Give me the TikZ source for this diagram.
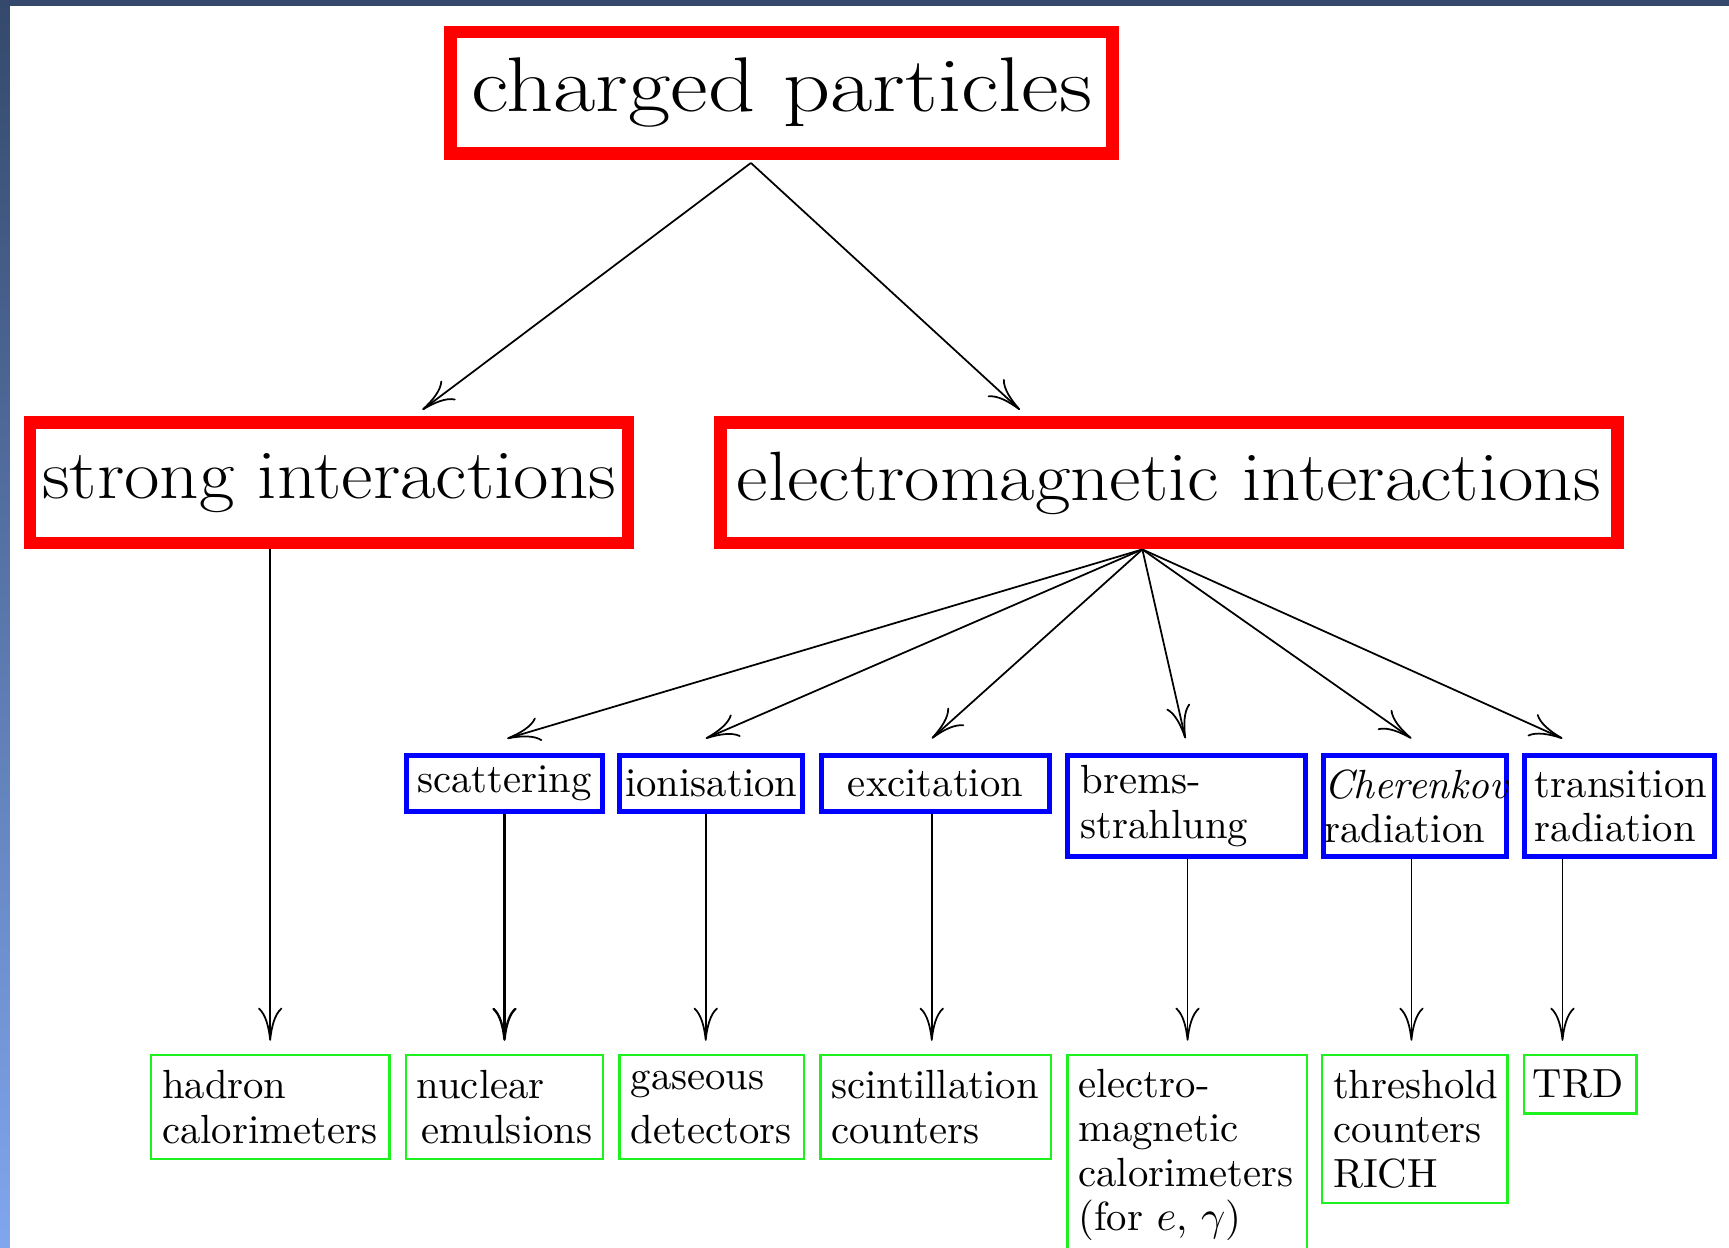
\documentclass[tikz,border=0pt]{standalone}
\usepackage{graphicx}
\usetikzlibrary{arrows.meta,calc}

\definecolor{framered}{RGB}{255,0,0}
\definecolor{frameblue}{RGB}{0,0,255}
\definecolor{framegreen}{RGB}{30,242,30}
\definecolor{slidetop}{RGB}{52,73,107}
\definecolor{slidelow}{RGB}{128,166,238}

% wide setting of the large headings
\newcommand{\widetext}[2]{\scalebox{#1}[1]{#2}}

\hyphenpenalty=10000
\exhyphenpenalty=10000

\begin{document}
\begin{tikzpicture}[x=0.01cm,y=-0.01cm,
  redbox/.style={draw=framered, line width=0.115cm, inner sep=0pt, align=center},
  bigfont/.style={font=\fontsize{18}{21}\selectfont},
  bluebox/.style={draw=frameblue, line width=0.045cm, inner ysep=0pt,
                  font=\fontsize{10.5}{11.4}\selectfont},
  greenbox/.style={draw=framegreen, line width=0.022cm, inner ysep=0pt, inner xsep=0.1cm,
                   align=left, font=\fontsize{10.5}{11.4}\selectfont},
  arr/.style={-{To[length=0.3cm,width=0.22cm]}, line width=0.45pt},
  heavyarr/.style={-{To[length=0.3cm,width=0.22cm,line width=0.6pt]}, line width=1pt},
]
% slide background: white page, dark top bar, shaded left strip
\fill[white] (0,0) rectangle (1568,1131);
\shade[top color=slidetop, bottom color=slidelow] (0,0) rectangle (9,1131);
\fill[slidetop] (0,0) rectangle (1568,5.5);
\clip (0,0) rectangle (1568,1131);

% top level
\node[redbox, minimum width=6.0cm, minimum height=1.10cm,
      font=\fontsize{20}{24}\selectfont] (charged) at (709,84)
  {\widetext{1.19}{charged particles}};

% interaction classes
\node[redbox, bigfont, minimum width=5.42cm, minimum height=1.09cm] (strong) at (298.5,438)
  {\widetext{1.105}{strong interactions}};
\node[redbox, bigfont, minimum width=8.13cm, minimum height=1.09cm] (em) at (1060,438)
  {\widetext{1.105}{electromagnetic interactions}};

% electromagnetic processes
\node[bluebox, inner xsep=0pt, minimum width=1.77cm, minimum height=0.51cm] (scat) at (457.5,710.5) {scattering};
\node[bluebox, inner xsep=0pt, minimum width=1.66cm, minimum height=0.51cm] (ion) at (645,710.5) {ionisation};
\node[bluebox, inner xsep=0pt, minimum width=2.07cm, minimum height=0.51cm] (exc) at (848.5,710.5) {excitation};
\node[bluebox, inner xsep=0.12cm, text width=1.92cm, align=left, minimum height=0.92cm] (brems) at (1076,731)
  {brems-\\strahlung};
\node[bluebox, inner xsep=0.01cm, text width=1.64cm, align=left, minimum height=0.92cm] (cher) at (1283,731)
  {\textit{Cherenkov}\\radiation};
\node[bluebox, inner xsep=0.09cm, text width=1.54cm, align=left, minimum height=0.92cm] (trans) at (1469,731)
  {transition\\radiation};

% detectors
\node[greenbox, text width=1.96cm, minimum height=0.94cm] (had) at (245,1004) {hadron\\calorimeters};
\node[greenbox, text width=1.59cm, minimum height=0.94cm] (nuc) at (457.5,1004) {nuclear\\\hspace*{0.04cm}emulsions};
\node[greenbox, text width=1.47cm, minimum height=0.94cm] (gas) at (645.5,1004) {gaseous\\[2.5pt]detectors};
\node[greenbox, text width=1.89cm, minimum height=0.94cm] (scint) at (848.5,1004) {scintillation\\counters};
\node[greenbox, text width=1.97cm, minimum height=1.81cm] (emcal) at (1076.5,1047.5)
  {electro-\\magnetic\\calorimeters\\(for $e$, $\gamma$)};
\node[greenbox, text width=1.48cm, minimum height=1.34cm] (thr) at (1283,1024) {threshold\\counters\\RICH};
\node[greenbox, inner xsep=0.08cm, text width=0.86cm, minimum height=0.53cm] (trd) at (1433,983.5) {TRD};

% charged particles -> interaction classes
\draw[arr] ($(charged.south)+(-28,3)$) -- ($(strong.north)+(84.5,-6)$);
\draw[arr] ($(charged.south)+(-28,3)$) -- ($(em.north)+(-135,-6)$);

% strong interactions -> hadron calorimeters
\draw[arr] (strong.south -| had.north) -- ($(had.north)+(0,-12)$);

% electromagnetic interactions -> processes
\coordinate (emfoot) at ($(em.south)+(-24,0)$);
\draw[arr] (emfoot) -- ($(scat.north)+(2.5,-13)$);
\draw[arr] (emfoot) -- ($(ion.north)+(-5,-13)$);
\draw[arr] (emfoot) -- ($(exc.north)+(-3.5,-13)$);
\draw[arr] (emfoot) -- ($(brems.north)+(-1,-13)$);
\draw[arr] (emfoot) -- ($(cher.north)+(-3,-13)$);
\draw[arr] (emfoot) -- ($(trans.north)+(-52,-13)$);

% processes -> detectors
\draw[heavyarr] (scat.south) -- ($(scat.south |- nuc.north)+(0,-12)$);
\draw[arr] ($(ion.south)+(-5,0)$) -- ($(ion.south |- gas.north)+(-5,-12)$);
\draw[arr] ($(exc.south)+(-3.5,0)$) -- ($(exc.south |- scint.north)+(-3.5,-12)$);
\draw[arr] ($(brems.south)+(1,0)$) -- ($(brems.south |- emcal.north)+(1,-12)$);
\draw[arr] ($(cher.south)+(-3,0)$) -- ($(cher.south |- thr.north)+(-3,-12)$);
\draw[arr] ($(trans.south)+(-52,0)$) -- ($(trans.south |- trd.north)+(-52,-12)$);
\end{tikzpicture}
\end{document}
